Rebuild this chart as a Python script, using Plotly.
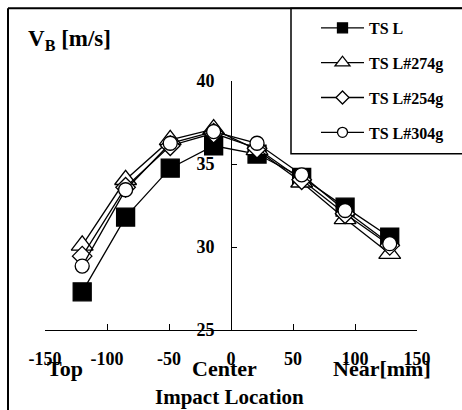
import plotly.graph_objects as go

# Impact positions along the face [mm] and measured ball speed V_B [m/s]
positions = [-120, -85, -49, -14, 21, 57, 92, 128]
v_tsl = [27.3, 31.8, 34.75, 36.1, 35.6, 34.2, 32.4, 30.6]
v_274 = [30.1, 34.05, 36.45, 37.1, 35.85, 33.9, 31.7, 29.6]
v_254 = [29.45, 33.6, 36.1, 36.85, 35.95, 34.05, 32.0, 30.1]
v_304 = [28.85, 33.45, 36.25, 36.95, 36.25, 34.35, 32.2, 30.2]

series_names = ["TS L", "TS L#274g", "TS L#254g", "TS L#304g"]
x_ticks = [-150, -100, -50, 0, 50, 100, 150]
x_tick_labels = ["-150", "-100", "-50", "0", "50", "100", "150"]
y_ticks = [25, 30, 35, 40]

FONT = "Liberation Serif"

styles = [
    dict(symbol="square", size=18, legend_size=10, color="black"),
    dict(symbol="triangle-up", size=19, legend_size=13, color="white"),
    dict(symbol="diamond", size=15, legend_size=10, color="white"),
    dict(symbol="circle", size=14, legend_size=10, color="white"),
]

fig = go.Figure()
for i, (name, vals, st) in enumerate(zip(series_names, [v_tsl, v_274, v_254, v_304], styles)):
    fig.add_trace(go.Scatter(
        x=positions, y=vals, name=name, mode="lines+markers",
        legendgroup=f"g{i}", showlegend=False,
        line=dict(color="black", width=1.3),
        marker=dict(symbol=st["symbol"], size=st["size"], color=st["color"],
                    line=dict(color="black", width=1.3)),
    ))
    # legend entry with smaller key symbol
    fig.add_trace(go.Scatter(
        x=[None], y=[None], name=name, mode="lines+markers",
        legendgroup=f"g{i}", showlegend=True,
        line=dict(color="black", width=1.3),
        marker=dict(symbol=st["symbol"], size=st["legend_size"], color=st["color"],
                    line=dict(color="black", width=1.3)),
    ))

fig.update_layout(
    width=462, height=410,
    margin=dict(l=45, r=45, t=80, b=80),
    paper_bgcolor="white", plot_bgcolor="white",
    font=dict(family=FONT, color="black"),
    showlegend=True,
    legend=dict(
        x=(316 - 45) / 372, y=(330 - 11) / 250, xanchor="left", yanchor="top",
        bgcolor="rgba(0,0,0,0)", borderwidth=0,
        font=dict(family=FONT, size=16, color="black", weight="bold"),
        tracegroupgap=11, itemwidth=43,
        traceorder="grouped",
    ),
    xaxis=dict(
        range=[-150, 150], tickvals=x_ticks, ticktext=x_tick_labels,
        ticks="inside", ticklen=6,
        tickwidth=1, tickcolor="black", showline=True, linecolor="black",
        linewidth=1, showgrid=False, zeroline=False,
        tickfont=dict(family=FONT, size=18, color="black", weight="bold"),
        ticklabelstandoff=12,
    ),
    yaxis=dict(
        range=[25, 40], tickvals=y_ticks, ticks="inside", ticklen=5,
        tickwidth=1, tickcolor="black", showline=True, linecolor="black",
        linewidth=1, showgrid=False, zeroline=False,
        anchor="free", position=0.5,
        tickfont=dict(family=FONT, size=18, color="black", weight="bold"),
        ticklabelstandoff=13,
    ),
)

# Outer frame (left and top edges) and legend box
fx0 = (8 - 45) / 372
fy_top = (330 - 7) / 250
fig.add_shape(type="line", xref="paper", yref="paper", x0=fx0, x1=fx0,
              y0=fy_top, y1=-0.5, line=dict(color="black", width=2))
fig.add_shape(type="line", xref="paper", yref="paper", x0=fx0, x1=1.3,
              y0=fy_top, y1=fy_top, line=dict(color="black", width=2))
fig.add_shape(type="rect", xref="paper", yref="paper",
              x0=(291 - 45) / 372, x1=1.3, y0=(330 - 153) / 250, y1=fy_top,
              line=dict(color="black", width=1.5))

# Text labels
def label(text, x, y, size, xanchor="center", xref="paper"):
    fig.add_annotation(text=text, x=x, y=y, xref=xref, yref="paper",
                       xanchor=xanchor, yanchor="middle", showarrow=False,
                       font=dict(family=FONT, size=size, color="black", weight="bold"))

label("V<sub>B</sub> [m/s]", (26 - 45) / 372, (330 - 39) / 250, 23, xanchor="left")
label("Top", -134, (330 - 369) / 250, 22, xref="x")
label("Center", -5, (330 - 369) / 250, 22, xref="x")
label("Near[mm]", 122, (330 - 369) / 250, 22, xref="x")
label("Impact Location", (229.5 - 45) / 372, (330 - 397) / 250, 21)

fig.write_html("out.html")
